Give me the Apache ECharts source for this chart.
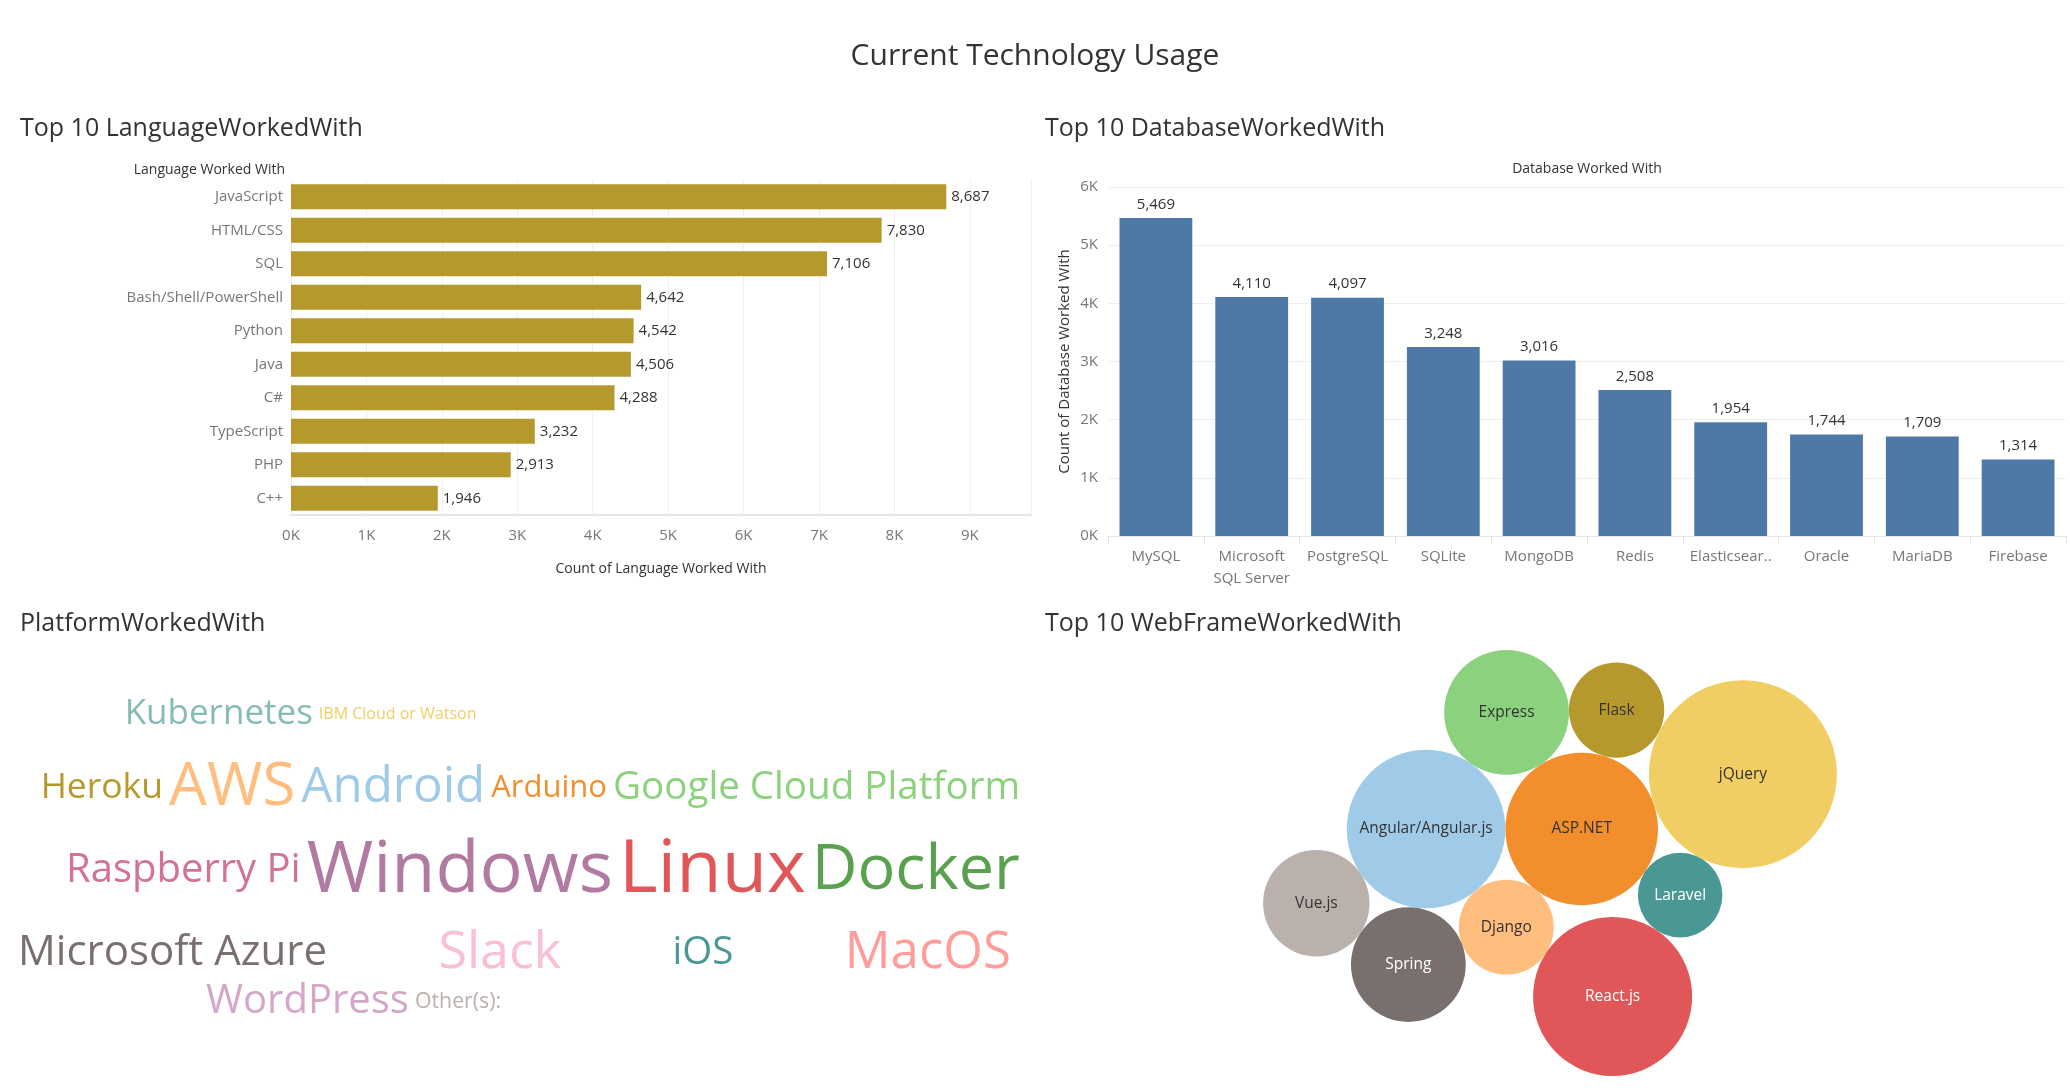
<!DOCTYPE html>
<html><head><meta charset="utf-8">
<script src="https://cdn.jsdelivr.net/npm/echarts@6/dist/echarts.min.js"></script>
<style>html,body{margin:0;padding:0;background:#fff;}#c{width:2070px;height:1090px;}</style>
</head><body><div id="c"></div>
<script>
// ---------------- DATA ----------------
const languageNames = ['JavaScript','HTML/CSS','SQL','Bash/Shell/PowerShell','Python','Java','C#','TypeScript','PHP','C++'];
const languageCounts = [8687,7830,7106,4642,4542,4506,4288,3232,2913,1946];

const databaseNames = ['MySQL','Microsoft SQL Server','PostgreSQL','SQLite','MongoDB','Redis','Elasticsearch','Oracle','MariaDB','Firebase'];
const databaseCounts = [5469,4110,4097,3248,3016,2508,1954,1744,1709,1314];

const platformNames = ['Linux','Windows','Docker','AWS','Slack','MacOS','Android','Microsoft Azure','Raspberry Pi','WordPress','Google Cloud Platform','iOS','Heroku','Kubernetes','Arduino','Other(s):','IBM Cloud or Watson'];
const platformCounts = [7400,7200,6300,6000,5200,5100,4930,4200,4000,4000,3860,3850,3550,3500,3100,2130,1600];
const platformColors = ['#E15759','#B07AA1','#59A14F','#FFBE7D','#FABFD2','#FF9D9A','#A0CBE8','#79706E','#D37295','#D4A6C8','#8CD17D','#499894','#B6992D','#86BCB6','#F28E2B','#BAB0AC','#F1CE63'];

const webFrameNames = ['jQuery','React.js','Angular/Angular.js','ASP.NET','Express','Spring','Vue.js','Flask','Django','Laravel'];
const webFrameCounts = [4400,3150,3130,2900,1940,1640,1410,1130,1120,890];
const webFrameColors = ['#F1CE63','#E15759','#A0CBE8','#F28E2B','#8CD17D','#79706E','#BAB0AC','#B6992D','#FFBE7D','#499894'];
const webFrameLabelColors = ['#333','#fff','#333','#333','#333','#fff','#333','#333','#333','#fff'];

const languageTickStep = 1000, languageAxisMax = 9810;
const databaseTickStep = 1000, databaseAxisMax = 6000;

// ---------------- LAYOUT / STYLE ----------------
const FONT = '"Open Sans","Noto Sans",sans-serif';
const fmt = v => v.toLocaleString('en-US');
const kfmt = v => (v / 1000) + 'K';

// word cloud rows (layout only)
const cloudRows = [
  {words:['Kubernetes','IBM Cloud or Watson'], align:'center', at:0.289, gapAbove:0},
  {words:['Heroku','AWS','Android','Arduino','Google Cloud Platform'], align:'center', at:0.51, gapAbove:26},
  {words:['Raspberry Pi','Windows','Linux','Docker'], align:'center', at:0.522, gapAbove:16},
  {words:['Microsoft Azure','Slack','iOS','MacOS'], align:'justify', gapAbove:19},
  {words:['WordPress','Other(s):'], align:'center', at:0.34, gapAbove:3}
];
const cloudPanel = {w:1040, h:490, left:18, right:1011, top:97, wordGap:6};
const fontPerCount = 73 / 7300;

const canvas = document.createElement('canvas');
const ctx = canvas.getContext('2d');
function textW(t, size){ ctx.font = size + 'px "Open Sans"'; return ctx.measureText(t).width; }

function cloudData(){
  const out = [];
  const rows = cloudRows.map(r => {
    const items = r.words.map(w => {
      const i = platformNames.indexOf(w);
      const fs = platformCounts[i] * fontPerCount;
      return {name:w, fs, w:textW(w, fs), color:platformColors[i], value:platformCounts[i]};
    });
    return {r, items, h:Math.max(...items.map(d => d.fs))};
  });
  let y = cloudPanel.top;
  rows.forEach(row => {
    y += row.r.gapAbove;
    const cy = y + row.h / 2;
    const sumW = row.items.reduce((s, d) => s + d.w, 0);
    let x, gap;
    if (row.r.align === 'justify') {
      x = cloudPanel.left;
      gap = (cloudPanel.right - cloudPanel.left - sumW) / (row.items.length - 1);
    } else {
      gap = cloudPanel.wordGap;
      const tw = sumW + gap * (row.items.length - 1);
      x = cloudPanel.w * row.r.at - tw / 2;
    }
    row.items.forEach(d => {
      out.push({name:d.name, value:[x + d.w / 2, cy, d.value],
        label:{fontSize:d.fs, color:d.color}});
      x += d.w + gap;
    });
    y += row.h;
  });
  return out;
}

// packed bubbles: each circle is placed tangent to two circles already placed
// [name, tangentTo A, tangentTo B, side]  (side: +1 / -1 relative to A->B)
const bubbleLayout = [
  ['Angular/Angular.js'],
  ['ASP.NET', 'Angular/Angular.js'],
  ['Django', 'Angular/Angular.js', 'ASP.NET', 1],
  ['Express', 'Angular/Angular.js', 'ASP.NET', -1],
  ['Spring', 'Django', 'Angular/Angular.js', -1],
  ['Vue.js', 'Angular/Angular.js', 'Spring', 1],
  ['Flask', 'Express', 'ASP.NET', -1],
  ['jQuery', 'Flask', 'ASP.NET', -1],
  ['Laravel', 'ASP.NET', 'jQuery', 1],
  ['React.js', 'Django', 'Laravel', 1]
];
const bubblePanel = {cx:510, cy:263, rPerSqrt:94 / Math.sqrt(4400)};

function bubbleData(){
  const pos = {};
  const rOf = n => bubblePanel.rPerSqrt * Math.sqrt(webFrameCounts[webFrameNames.indexOf(n)]);
  bubbleLayout.forEach(step => {
    const [n, an, bn, side] = step, r = rOf(n);
    if (!an) { pos[n] = {x:0, y:0, r}; return; }
    const A = pos[an];
    if (!bn) { pos[n] = {x:A.x + A.r + r, y:A.y, r}; return; }
    const B = pos[bn];
    const dx = B.x - A.x, dy = B.y - A.y, d = Math.hypot(dx, dy);
    const dA = A.r + r, dB = B.r + r;
    const a = (dA * dA - dB * dB + d * d) / (2 * d);
    const h = Math.sqrt(Math.max(0, dA * dA - a * a));
    const ux = dx / d, uy = dy / d;
    pos[n] = {x:A.x + a * ux - side * h * uy, y:A.y + a * uy + side * h * ux, r};
  });
  const list = Object.keys(pos).map(n => Object.assign({n}, pos[n]));
  const minX = Math.min(...list.map(c => c.x - c.r)), maxX = Math.max(...list.map(c => c.x + c.r));
  const minY = Math.min(...list.map(c => c.y - c.r)), maxY = Math.max(...list.map(c => c.y + c.r));
  const ox = bubblePanel.cx - (minX + maxX) / 2, oy = bubblePanel.cy - (minY + maxY) / 2;
  return list.map(c => {
    const i = webFrameNames.indexOf(c.n);
    return {name:c.n, value:[c.x + ox, c.y + oy, webFrameCounts[i]],
      symbolSize:c.r * 2, itemStyle:{color:webFrameColors[i]},
      label:{color:webFrameLabelColors[i]}};
  });
}

function dbLabel(v){
  if (v.length > 12 && v.indexOf(' ') > 0) { const i = v.indexOf(' '); return v.slice(0, i) + '\n' + v.slice(i + 1); }
  if (v.length > 12) return v.slice(0, 11) + '..';
  return v;
}

const chart = echarts.init(document.getElementById('c'), null, {renderer:'canvas'});
const txt = (text, x, y, size, align, color) => ({type:'text', x, y, silent:true,
  style:{text, fill:color || '#333', font:size + 'px ' + FONT, textAlign:align || 'left', textVerticalAlign:'middle'}});

chart.setOption({
  animation:false,
  backgroundColor:'#fff',
  textStyle:{fontFamily:FONT},
  graphic:[
    txt('Current Technology Usage', 1035, 56, 30, 'center'),
    txt('Top 10 LanguageWorkedWith', 20, 129, 25),
    txt('Top 10 DatabaseWorkedWith', 1045, 129, 25),
    txt('PlatformWorkedWith', 20, 624, 25),
    txt('Top 10 WebFrameWorkedWith', 1045, 624, 25),
    txt('Language Worked With', 285, 170, 14, 'right'),
    txt('Database Worked With', 1587, 169, 14, 'center')
  ],
  grid:[
    {left:291, top:180, width:740, height:335},
    {left:1108, top:187, width:958, height:349},
    {left:0, top:600, width:1040, height:490},
    {left:1040, top:600, width:1030, height:490}
  ],
  xAxis:[
    {gridIndex:0, type:'value', min:0, max:languageAxisMax, interval:languageTickStep,
     axisLabel:{color:'#777', fontSize:15, margin:13, showMaxLabel:false,
       formatter:v => (v % languageTickStep === 0 ? kfmt(v) : '')},
     axisLine:{show:true, lineStyle:{color:'#e6e6e6', width:2}}, axisTick:{show:false},
     splitLine:{show:true, lineStyle:{color:'#f0f0f0'}},
     name:'Count of Language Worked With', nameLocation:'middle', nameGap:47,
     nameTextStyle:{color:'#333', fontSize:14}},
    {gridIndex:1, type:'category', data:databaseNames,
     axisLabel:{color:'#777', fontSize:15, margin:10, lineHeight:22, interval:0, formatter:dbLabel},
     axisLine:{show:true, lineStyle:{color:'#e6e6e6'}},
     axisTick:{show:true, alignWithLabel:false, length:8, lineStyle:{color:'#e6e6e6'}}},
    {gridIndex:2, type:'value', min:0, max:1040, show:false},
    {gridIndex:3, type:'value', min:0, max:1030, show:false}
  ],
  yAxis:[
    {gridIndex:0, type:'category', data:languageNames, inverse:true,
     axisLabel:{color:'#777', fontSize:15, margin:8},
     axisLine:{show:false}, axisTick:{show:false}},
    {gridIndex:1, type:'value', min:0, max:databaseAxisMax, interval:databaseTickStep,
     axisLabel:{color:'#777', fontSize:15, margin:10, formatter:kfmt},
     axisLine:{show:false}, axisTick:{show:false},
     splitLine:{show:true, lineStyle:{color:'#eeeeee'}},
     name:'Count of Database Worked With', nameLocation:'middle', nameGap:36, nameRotate:90,
     nameTextStyle:{color:'#333', fontSize:15}},
    {gridIndex:2, type:'value', min:0, max:490, inverse:true, show:false},
    {gridIndex:3, type:'value', min:0, max:490, inverse:true, show:false}
  ],
  series:[
    {type:'bar', xAxisIndex:0, yAxisIndex:0, data:languageCounts, barWidth:25,
     itemStyle:{color:'#B6992D'},
     label:{show:true, position:'right', distance:5, color:'#333', fontSize:15, formatter:p => fmt(p.value)}},
    {type:'bar', xAxisIndex:1, yAxisIndex:1, data:databaseCounts, barCategoryGap:'24%',
     itemStyle:{color:'#4E79A7'},
     label:{show:true, position:'top', distance:6, color:'#333', fontSize:15, formatter:p => fmt(p.value)}},
    {type:'scatter', xAxisIndex:2, yAxisIndex:2, symbolSize:1, itemStyle:{color:'rgba(0,0,0,0)', opacity:1}, silent:true,
     data:cloudData(),
     label:{show:true, position:'inside', formatter:'{b}', fontFamily:FONT, textBorderWidth:0}},
    {type:'scatter', xAxisIndex:3, yAxisIndex:3, silent:true, data:bubbleData(),
     itemStyle:{opacity:1},
     label:{show:true, position:'inside', formatter:'{b}', fontSize:15.5, fontFamily:FONT, textBorderWidth:0}}
  ]
});
</script></body></html>
